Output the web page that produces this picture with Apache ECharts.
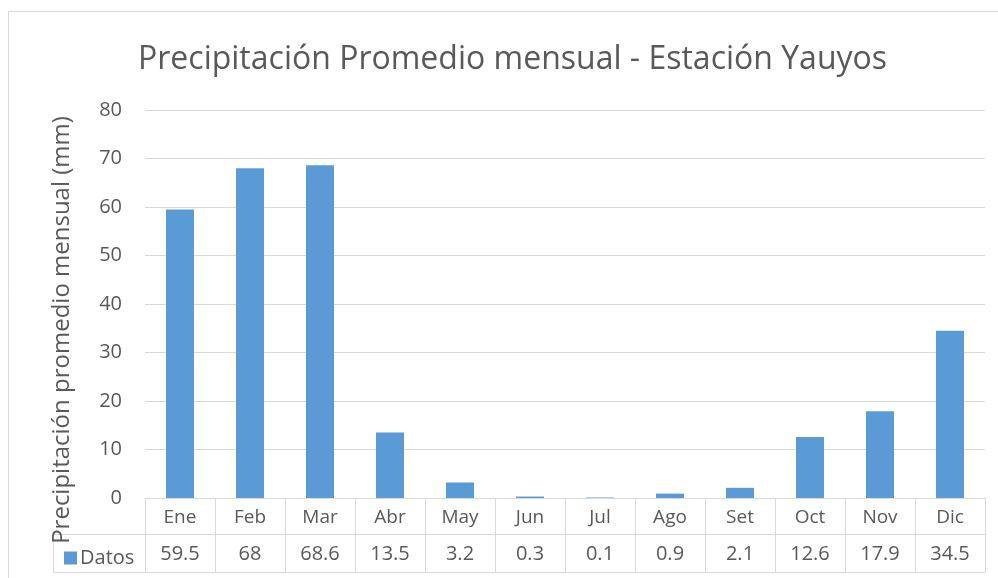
<!DOCTYPE html>
<html>
<head>
<meta charset="utf-8">
<script src="https://cdn.jsdelivr.net/npm/echarts@6/dist/echarts.min.js"></script>
<style>
  html, body { margin: 0; padding: 0; background: #fff; }
  #chart { width: 998px; height: 578px; }
</style>
</head>
<body>
<div id="chart"></div>
<script>
// 数据
const months = ["Ene", "Feb", "Mar", "Abr", "May", "Jun", "Jul", "Ago", "Set", "Oct", "Nov", "Dic"];
const datos = [59.5, 68, 68.6, 13.5, 3.2, 0.3, 0.1, 0.9, 2.1, 12.6, 17.9, 34.5];
const yTicks = [0, 80, 10]; // min, max, interval

const FONT = "Open Sans";
const TXT = "#595959";
const LINE = "#d9d9d9";

const chart = echarts.init(document.getElementById("chart"));
chart.setOption({
  backgroundColor: "#fff",
  animation: false,
  textStyle: { fontFamily: FONT },
  title: {
    text: "Precipitación Promedio mensual - Estación Yauyos",
    left: 133, top: 39,
    textStyle: { fontFamily: FONT, fontSize: 32, fontWeight: "normal", color: TXT },
  },
  legend: {
    data: ["Datos"], left: 59, top: 543,
    icon: "rect", itemWidth: 13, itemHeight: 13, itemGap: 4,
    textStyle: { fontFamily: FONT, fontSize: 20, color: TXT, padding: [0, 0, 0, -2] },
  },
  grid: { left: 145, right: 13, top: 110, bottom: 80 },
  graphic: [
    // 外框 + 图例单元格（表格装饰）
    { type: "rect", shape: { x: 8.5, y: 11.5, width: 1100, height: 700 }, style: { fill: null, stroke: LINE, lineWidth: 1 }, silent: true },
    { type: "rect", shape: { x: 53.5, y: 534.5, width: 92, height: 38 }, style: { fill: null, stroke: LINE, lineWidth: 1 }, silent: true },
  ],
  xAxis: [
    {
      type: "category", data: months, position: "bottom",
      axisLine: { lineStyle: { color: LINE } },
      axisTick: { show: true, length: 74, lineStyle: { color: LINE } },
      axisLabel: { fontFamily: FONT, fontSize: 19, color: TXT, margin: 10 },
    },
    {
      type: "category", data: datos.map(String), position: "bottom", offset: 36,
      axisLine: { lineStyle: { color: LINE } },
      axisTick: { show: false },
      axisLabel: { fontFamily: FONT, fontSize: 20, color: TXT, margin: 10 },
    },
    {
      type: "category", data: months, position: "bottom", offset: 74,
      axisLine: { lineStyle: { color: LINE } },
      axisTick: { show: false }, axisLabel: { show: false },
    },
  ],
  yAxis: {
    type: "value", min: yTicks[0], max: yTicks[1], interval: yTicks[2],
    name: "Precipitación promedio mensual (mm)", nameLocation: "middle", nameGap: 71,
    nameTextStyle: { fontFamily: FONT, fontSize: 24, color: TXT, padding: [0, 52, 0, 0] },
    axisLine: { show: false }, axisTick: { show: false },
    axisLabel: { fontFamily: FONT, fontSize: 20, color: TXT, margin: 23 },
    splitLine: { lineStyle: { color: LINE, width: 1 } },
  },
  series: [{
    name: "Datos", type: "bar", data: datos, barWidth: "40%",
    itemStyle: { color: "#5b9bd5" },
  }],
});
</script>
</body>
</html>
